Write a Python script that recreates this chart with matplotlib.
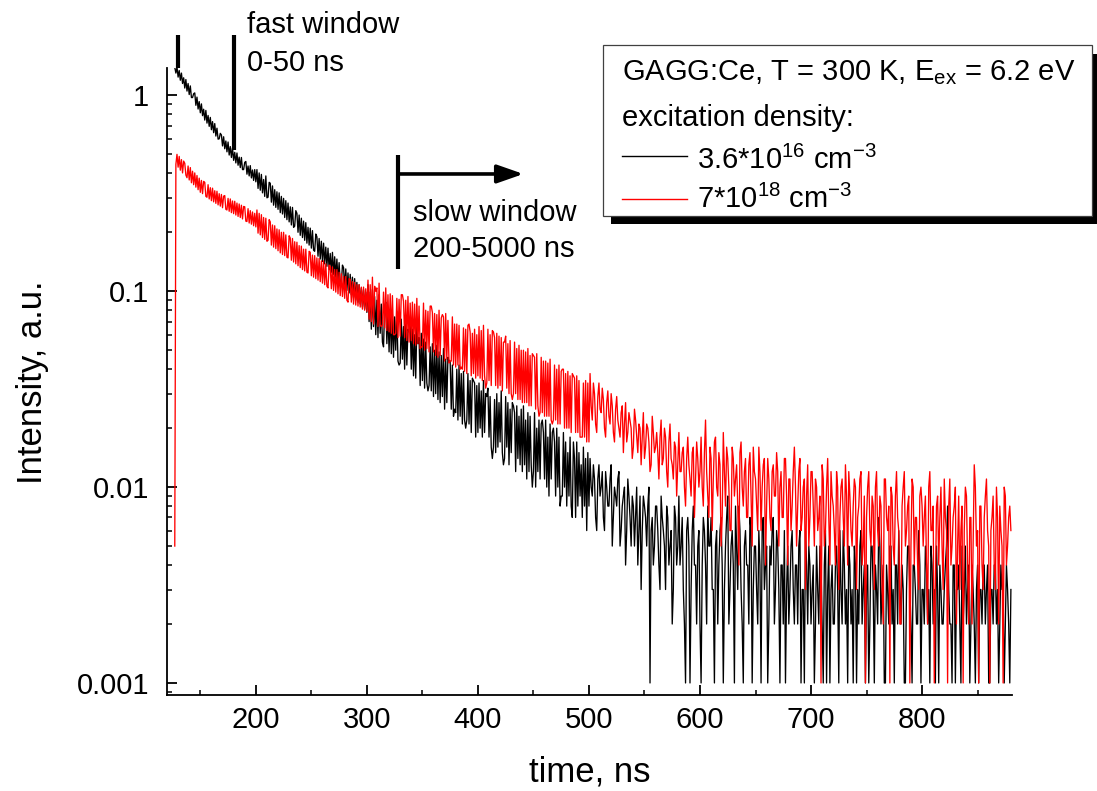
import numpy as np
import matplotlib
matplotlib.use("Agg")
import matplotlib.pyplot as plt
from matplotlib.patches import Rectangle
from matplotlib.lines import Line2D
from matplotlib.ticker import FixedLocator, FixedFormatter, LogLocator, NullFormatter, MultipleLocator

plt.rcParams['font.family'] = ['Liberation Sans', 'DejaVu Sans']
plt.rcParams['mathtext.fontset'] = 'custom'
plt.rcParams['mathtext.rm'] = 'Liberation Sans'
plt.rcParams['mathtext.default'] = 'regular'

# time channels, ns (1 ns bins, 127..880)
time_ns = np.arange(127, 881)

# counts per channel (1 count = 0.001 a.u.)
# *_odd -> channels 127, 129, ..., 879 ; *_even -> channels 128, 130, ..., 880
low_odd = [  # 3.6*10^16 cm^-3
    1390, 1395, 1340, 1300, 1230, 1205, 1150, 1118, 975, 1030,
    980, 930, 905, 850, 838, 790, 772, 735, 718, 680,
    600, 628, 615, 585, 578, 548, 540, 512, 508, 484,
    482, 418, 460, 436, 438, 416, 418,
    418, 402, 395, 372, 388, 302, 356, 345, 330, 322,
    318, 305, 298, 290, 282, 270, 268, 215, 250, 245,
    236, 228, 224, 212, 210, 204, 160, 190, 186, 180,
    176, 168, 166, 156, 158, 150, 146, 140, 108, 132,
    130, 124, 122, 118, 116, 111, 108, 104, 102, 99,
    108, 99, 102, 94, 90, 96, 86, 52, 88, 78,
    80, 76, 74, 79, 42, 72, 66, 70, 64, 68,
    64, 60, 66, 58, 61, 57, 55, 31, 52, 54,
    50, 53, 49, 47, 51, 45, 46, 44, 42, 25,
    40, 42, 38, 39, 20, 38, 35, 36, 34, 33,
    34, 31, 35, 30, 32, 29, 14, 28, 30, 27,
    31, 13, 29, 27, 25, 27, 24, 26, 23, 25,
    26, 22, 24, 23, 10, 24, 20, 22, 21, 19,
    22, 18, 21, 19, 17, 20, 18, 9, 19, 17,
    15, 18, 7, 14, 17, 15, 13, 16, 14, 15,
    14, 9, 11, 6, 13, 10, 7, 12, 8, 11,
    5, 10, 8, 12, 6, 9, 4, 11, 7, 9,
    5, 10, 6, 3, 9, 7, 8, 1, 7, 5,
    8, 4, 9, 6, 3, 7, 5, 2, 8, 4,
    9, 5, 3, 1, 7, 1, 6, 4, 2, 6,
    1, 7, 4, 8, 5, 3, 1, 6, 4, 7,
    1, 5, 9, 3, 6, 1, 5, 8, 3, 1,
    6, 4, 7, 1, 5, 3, 6, 1, 7, 4,
    1, 5, 6, 2, 6, 3, 4, 2, 1, 5,
    3, 6, 2, 4, 5, 1, 3, 6, 2, 4,
    3, 1, 5, 2, 4, 1, 6, 3, 1, 4,
    2, 5, 1, 3, 6, 2, 1, 4, 3, 5,
    1, 2, 6, 3, 1, 4, 2, 5, 1, 3,
    7, 2, 4, 1, 3, 5, 2, 1, 4, 6,
    2, 3, 1, 5, 3, 1, 4, 2, 6, 1,
    3, 5, 2, 1, 4, 3, 5, 1, 3, 2,
    4, 8, 2, 1, 4, 3, 4, 1, 2, 5,
    3, 1, 4, 2, 3, 1, 3, 4, 2, 4,
    1, 3, 4, 2, 1, 4, 3, 2, 3, 1,
]
low_even = [
    1300, 1240, 1195, 1150, 1090, 1052, 1010, 975, 1020, 890,
    852, 815, 788, 748, 722, 695, 668, 645, 620, 598,
    640, 552, 534, 515, 496, 482, 466, 452, 440, 428,
    418, 455, 396, 388, 379, 368, 362,
    335, 328, 318, 305, 300, 360, 285, 275, 268, 262,
    252, 248, 238, 232, 226, 218, 212, 258, 200, 193,
    188, 182, 176, 172, 166, 162, 196, 151, 146, 142,
    138, 134, 129, 125, 122, 118, 114, 110, 136, 104,
    101, 98, 96, 93, 90, 88, 86, 83, 81, 78,
    70, 64, 66, 60, 58, 61, 55, 82, 54, 49,
    48, 46, 50, 44, 43, 45, 40, 42, 62, 40,
    37, 36, 54, 33, 35, 32, 34, 33, 31, 29,
    30, 28, 27, 29, 25, 27, 44, 25, 23, 24,
    22, 23, 21, 22, 22, 21, 19, 35, 18, 19,
    20, 18, 19, 29, 18, 16, 16, 15, 16, 17,
    15, 14, 16, 13, 15, 26, 12, 14, 13, 12,
    13, 11, 12, 13, 12, 10, 12, 11, 22, 11,
    10, 9, 11, 20, 9, 10, 8, 9, 10, 8,
    9, 8, 17, 7, 8, 9, 7, 8, 6, 8,
    10, 13, 7, 11, 9, 12, 6, 10, 8, 13,
    7, 9, 11, 5, 8, 10, 6, 9, 5, 8,
    7, 4, 9, 6, 8, 5, 10, 6, 4, 8,
    6, 3, 7, 5, 8, 4, 6, 3, 7, 5,
    4, 7, 2, 6, 5, 3, 8, 4, 5, 2,
    4, 6, 2, 5, 7, 3, 5, 2, 6, 4,
    3, 7, 2, 5, 4, 8, 3, 6, 2, 5,
    4, 2, 6, 3, 5, 2, 4, 6, 3, 5,
    2, 4, 7, 3, 5, 1, 4, 6, 3, 2,
    5, 3, 4, 2, 6, 3, 1, 4, 5, 2,
    4, 2, 3, 5, 2, 4, 1, 5, 3, 2,
    4, 3, 6, 2, 4, 3, 5, 2, 1, 4,
    3, 5, 2, 4, 3, 1, 5, 3, 4, 2,
    5, 3, 1, 4, 2, 5, 3, 4, 2, 3,
    4, 1, 3, 5, 2, 4, 3, 2, 4, 3,
    2, 4, 3, 5, 2, 1, 3, 4, 2, 3,
    5, 3, 2, 4, 1, 3, 2, 5, 3, 2,
    4, 2, 3, 1, 4, 3, 2, 4, 3, 1,
    3, 2, 4, 3, 2, 3, 1, 4, 2, 3,
]

high_odd = [  # 7*10^18 cm^-3
    5, 500, 488, 470, 462, 392, 436, 428, 410, 402,
    390, 378, 368, 364, 305, 350, 338, 336, 326, 324,
    315, 312, 306, 262, 298, 296, 289, 288, 282, 279,
    275, 271, 228, 264, 258, 254, 250,
    260, 250, 246, 238, 236, 182, 226, 218, 216, 208,
    206, 200, 200, 194, 148, 187, 186, 179, 178, 171,
    170, 164, 164, 124, 158, 153, 152, 148, 147, 143,
    143, 138, 104, 134, 133, 129, 129, 125, 123, 119,
    119, 88, 115, 112, 111, 108, 108, 105, 105, 103,
    114, 108, 118, 106, 104, 110, 66, 99, 104, 96,
    97, 95, 60, 92, 91, 96, 89, 90, 94, 87,
    88, 86, 92, 84, 52, 87, 80, 79, 84, 78,
    77, 76, 80, 73, 74, 77, 71, 44, 74, 68,
    68, 67, 41, 65, 64, 67, 62, 61, 64, 60,
    66, 63, 67, 32, 64, 60, 63, 58, 61, 59,
    58, 55, 59, 54, 56, 28, 55, 51, 53, 50,
    50, 49, 51, 47, 48, 46, 48, 23, 46, 44,
    44, 43, 45, 21, 42, 40, 42, 39, 40, 38,
    39, 37, 38, 36, 37, 35, 18, 34, 35, 34,
    38, 22, 30, 19, 34, 24, 28, 18, 31, 21,
    26, 17, 29, 20, 24, 15, 27, 19, 22, 14,
    25, 18, 21, 13, 24, 16, 20, 12, 23, 15,
    19, 11, 22, 14, 18, 10, 21, 13, 17, 9,
    19, 12, 16, 8, 18, 11, 15, 7, 17, 10,
    18, 8, 22, 9, 16, 6, 17, 10, 15, 5,
    19, 8, 14, 6, 16, 9, 13, 4, 17, 8,
    14, 7, 15, 5, 12, 8, 16, 6, 13, 4,
    14, 7, 12, 9, 15, 5, 12, 7, 14, 4,
    11, 8, 16, 5, 12, 6, 10, 3, 13, 7,
    12, 5, 10, 7, 1, 11, 6, 14, 4, 9,
    6, 12, 3, 10, 7, 13, 4, 9, 5, 11,
    3, 8, 12, 5, 1, 10, 6, 9, 3, 12,
    5, 8, 2, 11, 6, 1, 9, 4, 12, 6,
    2, 10, 5, 8, 1, 11, 4, 7, 3, 10,
    5, 9, 2, 12, 6, 1, 8, 4, 10, 3,
    7, 1, 11, 5, 8, 2, 9, 6, 1, 10,
    4, 7, 2, 13, 5, 1, 8, 3, 9, 6,
    1, 7, 4, 10, 2, 6, 1, 9, 5, 8,
]
high_even = [
    445, 430, 415, 402, 450, 380, 370, 358, 350, 340,
    330, 320, 315, 360, 302, 296, 290, 286, 281, 276,
    272, 267, 308, 260, 256, 252, 249, 245, 241, 238,
    234, 270, 227, 223, 220, 216, 213,
    198, 194, 188, 184, 180, 232, 172, 168, 165, 161,
    157, 154, 152, 149, 192, 144, 141, 138, 135, 132,
    129, 127, 125, 160, 120, 118, 116, 114, 112, 110,
    108, 106, 136, 103, 101, 99, 97, 95, 94, 92,
    90, 116, 88, 86, 85, 84, 83, 81, 80, 79,
    72, 70, 68, 100, 66, 67, 67, 65, 63, 62,
    61, 60, 61, 58, 59, 96, 58, 56, 55, 56,
    54, 53, 54, 51, 52, 50, 51, 49, 84, 49,
    47, 46, 47, 76, 44, 45, 43, 44, 42, 41,
    42, 40, 40, 39, 38, 68, 37, 38, 36, 37,
    36, 35, 37, 34, 35, 33, 62, 33, 32, 33,
    31, 55, 32, 30, 30, 30, 30, 28, 28, 27,
    27, 27, 26, 26, 47, 25, 26, 24, 24, 23,
    23, 23, 22, 22, 22, 21, 21, 40, 20, 20,
    20, 19, 37, 19, 19, 18, 18, 18, 17, 17,
    26, 34, 21, 29, 25, 32, 20, 27, 23, 30,
    19, 25, 22, 18, 26, 21, 17, 24, 20, 16,
    22, 15, 20, 18, 14, 21, 17, 13, 19, 16,
    15, 18, 13, 20, 12, 17, 14, 11, 16, 13,
    12, 15, 10, 14, 13, 9, 16, 11, 14, 12,
    10, 15, 12, 7, 14, 11, 18, 9, 13, 7,
    12, 16, 10, 6, 14, 11, 8, 15, 10, 12,
    7, 13, 9, 16, 11, 6, 12, 10, 14, 8,
    11, 6, 13, 9, 12, 10, 7, 14, 9, 11,
    6, 12, 10, 8, 14, 7, 11, 9, 5, 12,
    8, 11, 6, 9, 13, 5, 10, 7, 12, 8,
    4, 10, 7, 11, 5, 9, 12, 6, 8, 10,
    7, 11, 4, 9, 7, 12, 5, 8, 10, 6,
    9, 3, 11, 7, 8, 10, 5, 9, 7, 2,
    8, 12, 6, 9, 5, 10, 7, 4, 9, 8,
    7, 4, 10, 6, 8, 3, 9, 7, 5, 11,
    6, 8, 4, 7, 10, 5, 3, 8, 6, 9,
    2, 7, 5, 10, 6, 8, 4, 7, 11, 5,
    6, 9, 3, 7, 8, 5, 10, 4, 7, 6,
]

labels = ['3.6*10$^{16}$ cm$^{-3}$', '7*10$^{18}$ cm$^{-3}$']
colors = ['black', 'red']
y_ticks = [0.001, 0.01, 0.1, 1]
y_ticklabels = ['0.001', '0.01', '0.1', '1']

W, H = 1097, 791


def fx(px):
    return px / W


def fy(py):
    return 1 - py / H


def merge(odd, even):
    # put the odd and even channels back in time order
    c = np.empty(len(odd) + len(even))
    c[0::2] = odd
    c[1::2] = even
    return c / 1000.0


fig = plt.figure(figsize=(W / 100, H / 100), dpi=100)
ax = fig.add_axes([fx(167), fy(695), (1012 - 167) / W, (695 - 68) / H])

ax.plot(time_ns, merge(low_odd, low_even), color=colors[0], lw=0.95)
ax.plot(time_ns, merge(high_odd, high_even), color=colors[1], lw=0.95)

ax.set_yscale('log')
ax.set_xlim(120, 881)
ax.set_ylim(8.68e-4, 1.38)

ax.yaxis.set_major_locator(FixedLocator(y_ticks))
ax.yaxis.set_major_formatter(FixedFormatter(y_ticklabels))
ax.yaxis.set_minor_locator(LogLocator(base=10, subs=np.arange(2, 10)))
ax.yaxis.set_minor_formatter(NullFormatter())
ax.xaxis.set_major_locator(MultipleLocator(100))
ax.xaxis.set_minor_locator(MultipleLocator(50))

for s in ['top', 'right']:
    ax.spines[s].set_visible(False)
for s in ['left', 'bottom']:
    ax.spines[s].set_linewidth(1.3)

ax.tick_params(which='major', direction='in', length=7, width=1.3, labelsize=21)
ax.tick_params(which='minor', direction='in', length=3.5, width=1.1)
ax.tick_params(axis='x', which='major', pad=8)
ax.tick_params(axis='y', which='major', pad=13)

fig.text(fx(589.5), fy(772), 'time, ns', fontsize=25, ha='center', va='center')
fig.text(fx(33), fy(382), 'Intensity, a.u.', fontsize=25, ha='center', va='center',
         rotation=90)

# time window markers
ax.plot([130, 130], [2.03, 1.38], color='black', lw=3, clip_on=False, solid_capstyle='butt')
ax.plot([180, 180], [2.03, 0.527], color='black', lw=3, clip_on=False, solid_capstyle='butt')
ax.plot([328, 328], [0.497, 0.13], color='black', lw=3, clip_on=False, solid_capstyle='butt')
ax.annotate('', xy=(441, 0.397), xytext=(328, 0.397), annotation_clip=False,
            arrowprops=dict(arrowstyle='-|>,head_length=0.8,head_width=0.28', lw=2.6,
                            color='black', mutation_scale=20, shrinkA=0, shrinkB=0))

fig.text(fx(246.7), fy(33), 'fast window', fontsize=21, va='baseline')
fig.text(fx(246.7), fy(71), '0-50 ns', fontsize=21, va='baseline')
fig.text(fx(413), fy(221), 'slow window', fontsize=21, va='baseline')
fig.text(fx(413), fy(257), '200-5000 ns', fontsize=21, va='baseline')

# legend box with shadow
bw = (1092 - 602.7) / W
bh = (215.7 - 45) / H
fig.add_artist(Rectangle((fx(611.2), fy(224.2)), bw, bh, transform=fig.transFigure,
                         facecolor='black', edgecolor='none', zorder=5))
fig.add_artist(Rectangle((fx(602.7), fy(215.7)), bw, bh, transform=fig.transFigure,
                         facecolor='white', edgecolor='#404040', lw=0.9, zorder=6))
fig.text(fx(621.7), fy(80), 'GAGG:Ce, T = 300 K, E$_{ex}$ = 6.2 eV', fontsize=21,
         va='baseline', zorder=7)
fig.text(fx(621.7), fy(126), 'excitation density:', fontsize=21, va='baseline', zorder=7)
for i, (lab, col) in enumerate(zip(labels, colors)):
    ly = [156, 199][i]
    fig.add_artist(Line2D([fx(621.7), fx(686.7)], [fy(ly), fy(ly)], transform=fig.transFigure,
                          color=col, lw=1, zorder=7))
    fig.text(fx(696.7), fy([169, 207.7][i]), lab, fontsize=21, va='baseline', zorder=7)

fig.savefig('out.png', dpi=100)
